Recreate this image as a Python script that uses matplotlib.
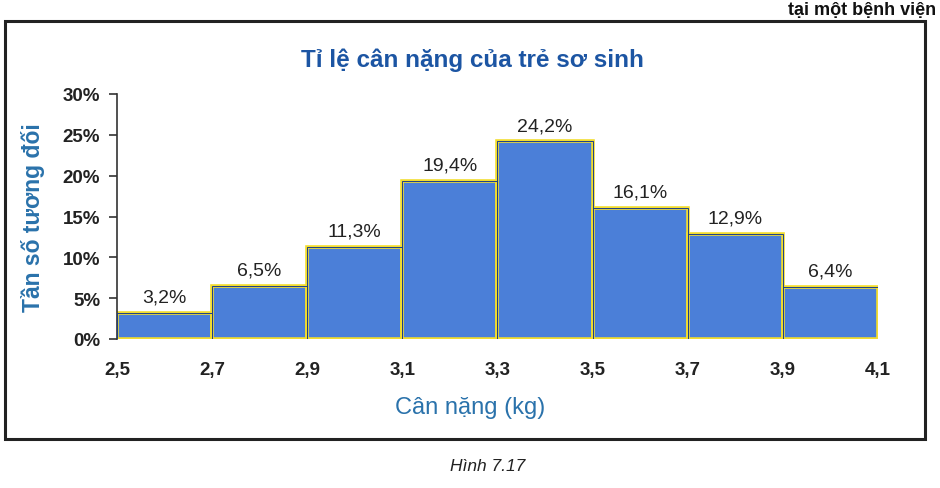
import matplotlib
matplotlib.use("Agg")
import matplotlib.pyplot as plt
from matplotlib.patches import Rectangle

# Data
bin_edges = [2.5, 2.7, 2.9, 3.1, 3.3, 3.5, 3.7, 3.9, 4.1]
edge_labels = ["2,5", "2,7", "2,9", "3,1", "3,3", "3,5", "3,7", "3,9", "4,1"]
values = [3.2, 6.5, 11.3, 19.4, 24.2, 16.1, 12.9, 6.4]
value_labels = ["3,2%", "6,5%", "11,3%", "19,4%", "24,2%", "16,1%", "12,9%", "6,4%"]
y_ticks = [0, 5, 10, 15, 20, 25, 30]
y_tick_labels = ["0%", "5%", "10%", "15%", "20%", "25%", "30%"]

title = "Tỉ lệ cân nặng của trẻ sơ sinh"
xlabel = "Cân nặng (kg)"
ylabel = "Tần số tương đối"
caption = "Hình 7.17"
top_fragment = "tại một bệnh viện"

plt.rcParams['font.family'] = ['Liberation Sans', 'DejaVu Sans']

W, H = 940, 489
fig = plt.figure(figsize=(W / 100, H / 100), dpi=100)
fig.patch.set_facecolor("white")

ax = fig.add_axes([117 / W, 1 - 340 / H, (878 - 117) / W, (340 - 95) / H])

lefts = bin_edges[:-1]
widths = [bin_edges[i + 1] - bin_edges[i] for i in range(len(values))]
ax.bar(lefts, values, width=widths, align="edge", color="#4b7fd8",
       edgecolor="#f2dd2e", linewidth=2.6, zorder=2)
ax.bar(lefts, values, width=widths, align="edge", color="none",
       edgecolor="#1d3f8a", linewidth=0.7, zorder=3)

for x, w, v, lab in zip(lefts, widths, values, value_labels):
    ax.text(x + w / 2, v + 0.9, lab, ha="center", va="bottom",
            fontsize=14, color="#222222")

ax.set_xlim(bin_edges[0], bin_edges[-1])
ax.set_ylim(0, 30)
ax.set_yticks(y_ticks)
ax.set_yticklabels(y_tick_labels, fontsize=13.5, color="#222222", fontweight="bold")
ax.set_xticks(bin_edges)
ax.set_xticklabels(edge_labels, fontsize=13.5, color="#222222", fontweight="bold")
ax.tick_params(axis="x", length=0, pad=16)
ax.tick_params(axis="y", length=6, width=1.2, direction="out", pad=6, color="#333333")
for s in ["top", "right", "bottom"]:
    ax.spines[s].set_visible(False)
ax.spines["left"].set_linewidth(1.2)
ax.spines["left"].set_color("#333333")
ax.set_facecolor("white")

# Box around chart
fig.patches.append(Rectangle((5 / W, 1 - 440 / H), 920 / W, 418 / H,
                             transform=fig.transFigure, fill=False,
                             edgecolor="#222222", linewidth=2.2))

fig.text(472 / W, 1 - 60 / H, title, ha="center", va="center",
         fontsize=17.5, fontweight="bold", color="#1c55a3")
fig.text(33 / W, 1 - 218 / H, ylabel, ha="center", va="center", rotation=90,
         fontsize=16.5, fontweight="bold", color="#2a72ab")
fig.text(470 / W, 1 - 408 / H, xlabel, ha="center", va="center",
         fontsize=17, color="#2a72ab")
fig.text(488 / W, 1 - 467 / H, caption, ha="center", va="center",
         fontsize=12.5, style="italic", color="#222222")
fig.text(936 / W, 1 - 2 / H, top_fragment, ha="right", va="top",
         fontsize=13, fontweight="bold", color="#111111")

fig.savefig("out.png", dpi=100, facecolor="white")
